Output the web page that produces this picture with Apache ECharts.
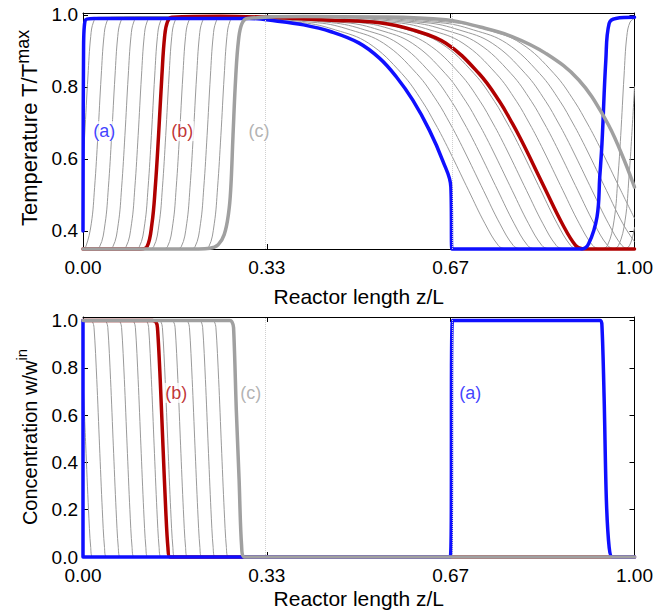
<!DOCTYPE html>
<html>
<head>
<meta charset="utf-8">
<script src="https://cdn.jsdelivr.net/npm/echarts@6/dist/echarts.min.js"></script>
<style>
  html, body { margin: 0; padding: 0; background: #ffffff; }
  #chart { width: 656px; height: 615px; }
</style>
</head>
<body>
<div id="chart"></div>
<script>
// ---------- axis ticks ----------
const zTicks = [0, 1 / 3, 2 / 3, 1];
const tempTicks = [0.4, 0.6, 0.8, 1.0];
const concTicks = [0, 0.2, 0.4, 0.6, 0.8, 1.0];

// ---------- temperature profiles T/Tmax over z/L ----------
const tempA = [[0,0.4],[0.001,0.9],[0.004,0.985],[0.02,0.99],[0.3,0.99],[0.35,0.983],[0.4,0.972],[0.45,0.953],[0.5,0.922],[0.538,0.879],[0.568,0.828],[0.598,0.763],[0.628,0.68],[0.652,0.596],[0.667,0.522],[0.669,0.35],[0.905,0.35],[0.917,0.365],[0.932,0.439],[0.937,0.55],[0.941,0.643],[0.948,0.874],[0.954,0.976],[0.966,0.99],[1.0,0.993]];
const tempB = [[0,0.35],[0.104,0.35],[0.116,0.356],[0.125,0.42],[0.131,0.52],[0.137,0.665],[0.143,0.83],[0.148,0.94],[0.153,0.98],[0.161,0.993],[0.25,0.996],[0.35,0.992],[0.45,0.985],[0.538,0.978],[0.598,0.958],[0.658,0.921],[0.718,0.837],[0.755,0.76],[0.779,0.697],[0.792,0.66],[0.809,0.608],[0.839,0.513],[0.869,0.42],[0.893,0.36],[0.905,0.351],[0.92,0.35],[1.0,0.35]];
const tempC = [[0,0.35],[0.21,0.35],[0.23,0.352],[0.245,0.362],[0.256,0.39],[0.264,0.45],[0.268,0.52],[0.272,0.665],[0.277,0.83],[0.282,0.93],[0.288,0.975],[0.298,0.99],[0.4,0.995],[0.538,0.994],[0.658,0.986],[0.72,0.966],[0.779,0.939],[0.839,0.893],[0.899,0.819],[0.948,0.708],[0.975,0.62],[1.0,0.522]];
const tempThin = [
  [[0,0.59],[0.003,0.665],[0.009,0.83],[0.014,0.94],[0.019,0.98],[0.027,0.993],[0.2,0.995],[0.398,0.978],[0.458,0.958],[0.518,0.921],[0.578,0.837],[0.615,0.76],[0.639,0.697],[0.652,0.66],[0.669,0.608],[0.699,0.513],[0.729,0.42],[0.753,0.36],[0.765,0.351],[0.78,0.35],[0.939,0.35],[0.951,0.36],[0.963,0.43],[0.97,0.55],[0.975,0.665],[0.981,0.83],[0.986,0.94],[0.992,0.98],[1.0,0.99]],
  [[0,0.353],[0.005,0.356],[0.015,0.42],[0.021,0.52],[0.027,0.665],[0.033,0.83],[0.038,0.94],[0.043,0.98],[0.051,0.993],[0.22,0.995],[0.425,0.978],[0.485,0.958],[0.545,0.921],[0.605,0.837],[0.642,0.76],[0.666,0.697],[0.679,0.66],[0.696,0.608],[0.726,0.513],[0.756,0.42],[0.78,0.36],[0.792,0.351],[0.807,0.35],[0.959,0.35],[0.971,0.36],[0.983,0.43],[0.99,0.55],[0.995,0.665],[1.0,0.8]],
  [[0,0.35],[0.018,0.35],[0.03,0.356],[0.04,0.42],[0.046,0.52],[0.052,0.665],[0.058,0.83],[0.063,0.94],[0.068,0.98],[0.076,0.993],[0.25,0.995],[0.451,0.978],[0.511,0.958],[0.571,0.921],[0.631,0.837],[0.668,0.76],[0.692,0.697],[0.705,0.66],[0.722,0.608],[0.752,0.513],[0.782,0.42],[0.806,0.36],[0.818,0.351],[0.833,0.35],[0.979,0.35],[0.991,0.36],[1.0,0.41]],
  [[0,0.35],[0.042,0.35],[0.054,0.356],[0.064,0.42],[0.07,0.52],[0.076,0.665],[0.082,0.83],[0.087,0.94],[0.092,0.98],[0.1,0.993],[0.28,0.995],[0.477,0.978],[0.537,0.958],[0.597,0.921],[0.657,0.837],[0.694,0.76],[0.718,0.697],[0.731,0.66],[0.748,0.608],[0.778,0.513],[0.808,0.42],[0.832,0.36],[0.844,0.351],[0.859,0.35],[1.0,0.35]],
  [[0,0.35],[0.066,0.35],[0.078,0.356],[0.088,0.42],[0.094,0.52],[0.1,0.665],[0.106,0.83],[0.111,0.94],[0.116,0.98],[0.124,0.993],[0.3,0.995],[0.503,0.978],[0.563,0.958],[0.623,0.921],[0.683,0.837],[0.72,0.76],[0.744,0.697],[0.757,0.66],[0.774,0.608],[0.804,0.513],[0.834,0.42],[0.858,0.36],[0.87,0.351],[0.885,0.35],[1.0,0.35]],
  [[0,0.35],[0.09,0.35],[0.102,0.356],[0.112,0.42],[0.118,0.52],[0.124,0.665],[0.13,0.83],[0.135,0.94],[0.14,0.98],[0.148,0.993],[0.32,0.995],[0.529,0.978],[0.589,0.958],[0.649,0.921],[0.709,0.837],[0.746,0.76],[0.77,0.697],[0.783,0.66],[0.8,0.608],[0.83,0.513],[0.86,0.42],[0.884,0.36],[0.896,0.351],[0.911,0.35],[1.0,0.35]],
  [[0,0.35],[0.116,0.35],[0.128,0.356],[0.138,0.42],[0.144,0.52],[0.15,0.665],[0.156,0.83],[0.161,0.94],[0.166,0.98],[0.174,0.993],[0.34,0.996],[0.569,0.978],[0.629,0.958],[0.689,0.921],[0.749,0.837],[0.786,0.76],[0.81,0.697],[0.823,0.66],[0.84,0.608],[0.87,0.513],[0.9,0.42],[0.924,0.36],[0.936,0.351],[0.951,0.35],[1.0,0.35]],
  [[0,0.35],[0.141,0.35],[0.153,0.356],[0.163,0.42],[0.169,0.52],[0.175,0.665],[0.181,0.83],[0.186,0.94],[0.191,0.98],[0.199,0.993],[0.38,0.996],[0.596,0.978],[0.656,0.958],[0.716,0.921],[0.776,0.837],[0.813,0.76],[0.837,0.697],[0.85,0.66],[0.867,0.608],[0.897,0.513],[0.927,0.42],[0.951,0.36],[0.963,0.351],[0.978,0.35],[1.0,0.35]],
  [[0,0.35],[0.166,0.35],[0.178,0.356],[0.188,0.42],[0.194,0.52],[0.2,0.665],[0.206,0.83],[0.211,0.94],[0.216,0.98],[0.224,0.993],[0.4,0.996],[0.622,0.978],[0.682,0.958],[0.742,0.921],[0.802,0.837],[0.839,0.76],[0.863,0.697],[0.876,0.66],[0.893,0.608],[0.923,0.513],[0.953,0.42],[0.977,0.36],[0.989,0.351],[1.0,0.35]],
  [[0,0.35],[0.191,0.35],[0.203,0.356],[0.213,0.42],[0.219,0.52],[0.225,0.665],[0.231,0.83],[0.236,0.94],[0.241,0.98],[0.249,0.993],[0.42,0.996],[0.648,0.978],[0.708,0.958],[0.768,0.921],[0.828,0.837],[0.865,0.76],[0.889,0.697],[0.902,0.66],[0.919,0.608],[0.949,0.513],[0.979,0.42],[1.0,0.37]],
  [[0,0.35],[0.216,0.35],[0.228,0.356],[0.238,0.42],[0.244,0.52],[0.25,0.665],[0.256,0.83],[0.261,0.94],[0.266,0.98],[0.274,0.993],[0.45,0.996],[0.674,0.978],[0.734,0.958],[0.794,0.921],[0.854,0.837],[0.891,0.76],[0.915,0.697],[0.928,0.66],[0.945,0.608],[0.975,0.513],[1.0,0.435]]
];

// ---------- concentration profiles w/w_in over z/L ----------
const concA = [[0,1.0],[0,0],[0.666,0],[0.67,1.0],[0.938,1.0],[0.941,0.975],[0.945,0.664],[0.949,0.24],[0.954,0.042],[0.96,0],[1.0,0]];
const concB = [[0,1],[0.126,1],[0.132,0.995],[0.135,0.97],[0.14,0.75],[0.145,0.47],[0.15,0.2],[0.154,0.04],[0.158,0],[1,0]];
const concC = [[0,1],[0.266,1],[0.27,0.995],[0.273,0.97],[0.278,0.62],[0.283,0.33],[0.2875,0.05],[0.293,0],[1,0]];
const concThin = [
  [[0,0.75],[0.005,0.47],[0.01,0.2],[0.014,0.04],[0.018,0],[1,0]],
  [[0,1],[0.011,1],[0.017,0.995],[0.02,0.97],[0.025,0.75],[0.03,0.47],[0.035,0.2],[0.039,0.04],[0.043,0],[1,0]],
  [[0,1],[0.036,1],[0.042,0.995],[0.045,0.97],[0.05,0.75],[0.055,0.47],[0.06,0.2],[0.064,0.04],[0.068,0],[1,0]],
  [[0,1],[0.061,1],[0.067,0.995],[0.07,0.97],[0.075,0.75],[0.08,0.47],[0.085,0.2],[0.089,0.04],[0.093,0],[1,0]],
  [[0,1],[0.086,1],[0.092,0.995],[0.095,0.97],[0.1,0.75],[0.105,0.47],[0.11,0.2],[0.114,0.04],[0.118,0],[1,0]],
  [[0,1],[0.11,1],[0.116,0.995],[0.119,0.97],[0.124,0.75],[0.129,0.47],[0.134,0.2],[0.138,0.04],[0.142,0],[1,0]],
  [[0,1],[0.135,1],[0.141,0.995],[0.144,0.97],[0.149,0.75],[0.154,0.47],[0.159,0.2],[0.163,0.04],[0.167,0],[1,0]],
  [[0,1],[0.158,1],[0.164,0.995],[0.167,0.97],[0.172,0.75],[0.177,0.47],[0.182,0.2],[0.186,0.04],[0.19,0],[1,0]],
  [[0,1],[0.184,1],[0.19,0.995],[0.193,0.97],[0.198,0.75],[0.203,0.47],[0.208,0.2],[0.212,0.04],[0.216,0],[1,0]],
  [[0,1],[0.208,1],[0.214,0.995],[0.217,0.97],[0.222,0.75],[0.227,0.47],[0.232,0.2],[0.236,0.04],[0.24,0],[1,0]],
  [[0,1],[0.232,1],[0.238,0.995],[0.241,0.97],[0.246,0.75],[0.251,0.47],[0.256,0.2],[0.26,0.04],[0.264,0],[1,0]]
];

// ---------- curve tags, anchored in data coordinates ----------
const tempTags = [['(a)', 0.0385, 0.677], ['(b)', 0.18, 0.677], ['(c)', 0.319, 0.677]];
const concTags = [['(b)', 0.169, 0.694], ['(c)', 0.304, 0.694], ['(a)', 0.702, 0.694]];

// ---------- styling ----------
const FONT = '"Liberation Sans", Arial, Helvetica, sans-serif';
const COLOR_A = '#0f0fff';
const COLOR_B = '#b00000';
const COLOR_C = '#a0a0a0';
const COLOR_THIN = '#9a9a9a';
const tagColors = { '(a)': COLOR_A, '(b)': COLOR_B, '(c)': COLOR_C };

const frameLine = { show: true, onZero: false, lineStyle: { color: '#000', width: 1 } };

function xAxes(gridIndex, nameGap) {
  const base = {
    type: 'value', gridIndex, min: 0, max: 1,
    axisLine: frameLine, splitLine: { show: false },
    axisTick: { show: true, inside: true, length: 5, customValues: zTicks, lineStyle: { color: '#000' } }
  };
  return [
    Object.assign({}, base, {
      position: 'bottom',
      axisLabel: { show: true, customValues: zTicks, formatter: v => v.toFixed(2),
                   fontSize: 19, color: '#000', fontFamily: FONT, margin: 9 },
      name: 'Reactor length z/L', nameLocation: 'middle', nameGap,
      nameTextStyle: { fontSize: 21, color: '#000', fontFamily: FONT }
    }),
    Object.assign({}, base, { position: 'top', axisLabel: { show: false } })
  ];
}

function yAxes(gridIndex, min, max, ticks, name, mainSize, supSize, pad) {
  const base = {
    type: 'value', gridIndex, min, max,
    axisLine: frameLine, splitLine: { show: false },
    axisTick: { show: true, inside: true, length: 5, customValues: ticks, lineStyle: { color: '#000' } }
  };
  return [
    Object.assign({}, base, {
      position: 'left',
      axisLabel: { show: true, customValues: ticks, formatter: v => v.toFixed(1),
                   fontSize: 19, color: '#000', fontFamily: FONT, margin: 5 },
      name, nameLocation: 'middle', nameGap: 43, nameRotate: 90,
      nameTextStyle: {
        color: '#000', fontFamily: FONT, padding: pad,
        rich: {
          m: { fontSize: mainSize, lineHeight: 26, verticalAlign: 'bottom', color: '#000', fontFamily: FONT },
          s: { fontSize: supSize, lineHeight: 12, verticalAlign: 'top', color: '#000', fontFamily: FONT }
        }
      }
    }),
    Object.assign({}, base, { position: 'right', axisLabel: { show: false } })
  ];
}

function profile(data, xi, yi, color, width, z, smooth) {
  return {
    type: 'line', data, xAxisIndex: xi, yAxisIndex: yi, smooth,
    showSymbol: false, symbol: 'none', clip: false, silent: true, z,
    lineStyle: { color, width, cap: 'round', join: 'round' }
  };
}

function gridDots(xi, yi) {
  return {
    type: 'line', data: [], xAxisIndex: xi, yAxisIndex: yi, silent: true,
    markLine: {
      silent: true, symbol: ['none', 'none'], label: { show: false },
      lineStyle: { type: 'dotted', color: '#d0d0d0', width: 1 },
      emphasis: { disabled: true },
      data: [{ xAxis: zTicks[1] }, { xAxis: zTicks[2] }]
    },
    z: 8
  };
}

function tags(list, xi, yi) {
  return list.map(([text, x, y]) => ({
    type: 'scatter', xAxisIndex: xi, yAxisIndex: yi, silent: true, z: 12,
    data: [[x, y]], symbolSize: 1, itemStyle: { color: 'rgba(0,0,0,0)' },
    label: {
      show: true, position: 'inside', formatter: text,
      color: tagColors[text], fontSize: 18, fontFamily: FONT,
      backgroundColor: '#ffffff', padding: [1, 1]
    }
  }));
}

const series = [];
tempThin.forEach(d => series.push(profile(d, 0, 0, COLOR_THIN, 1, 2, 0.4)));
series.push(profile(tempB, 0, 0, COLOR_B, 3.5, 3, 0.4));
series.push(profile(tempA, 0, 0, COLOR_A, 3.5, 4, 0.4));
series.push(profile(tempC, 0, 0, COLOR_C, 3.5, 5, 0.4));
series.push(gridDots(0, 0));
series.push(...tags(tempTags, 0, 0));

concThin.forEach(d => series.push(profile(d, 2, 2, COLOR_THIN, 1, 2, 0.3)));
series.push(profile(concB, 2, 2, COLOR_B, 3.5, 3, 0.3));
series.push(profile(concA, 2, 2, COLOR_A, 3.5, 4, 0.3));
series.push(profile(concC, 2, 2, COLOR_C, 3.5, 5, 0.3));
series.push(gridDots(2, 2));
series.push(...tags(concTags, 2, 2));

const chart = echarts.init(document.getElementById('chart'), null, { renderer: 'svg' });
chart.setOption({
  animation: false,
  backgroundColor: '#ffffff',
  grid: [
    { left: 83, top: 13, width: 554, height: 236 },
    { left: 83, top: 317, width: 554, height: 240 }
  ],
  xAxis: [...xAxes(0, 37), ...xAxes(1, 31)],
  yAxis: [
    ...yAxes(0, 0.35, 1.005, tempTicks, '{m|Temperature T/T}{s|max}', 22, 18, [0, 0, 0, 6]),
    ...yAxes(1, 0, 1.015, concTicks, '{m|Concentration w/w}{s|in}', 20, 15, 0)
  ],
  series
});
</script>
</body>
</html>
